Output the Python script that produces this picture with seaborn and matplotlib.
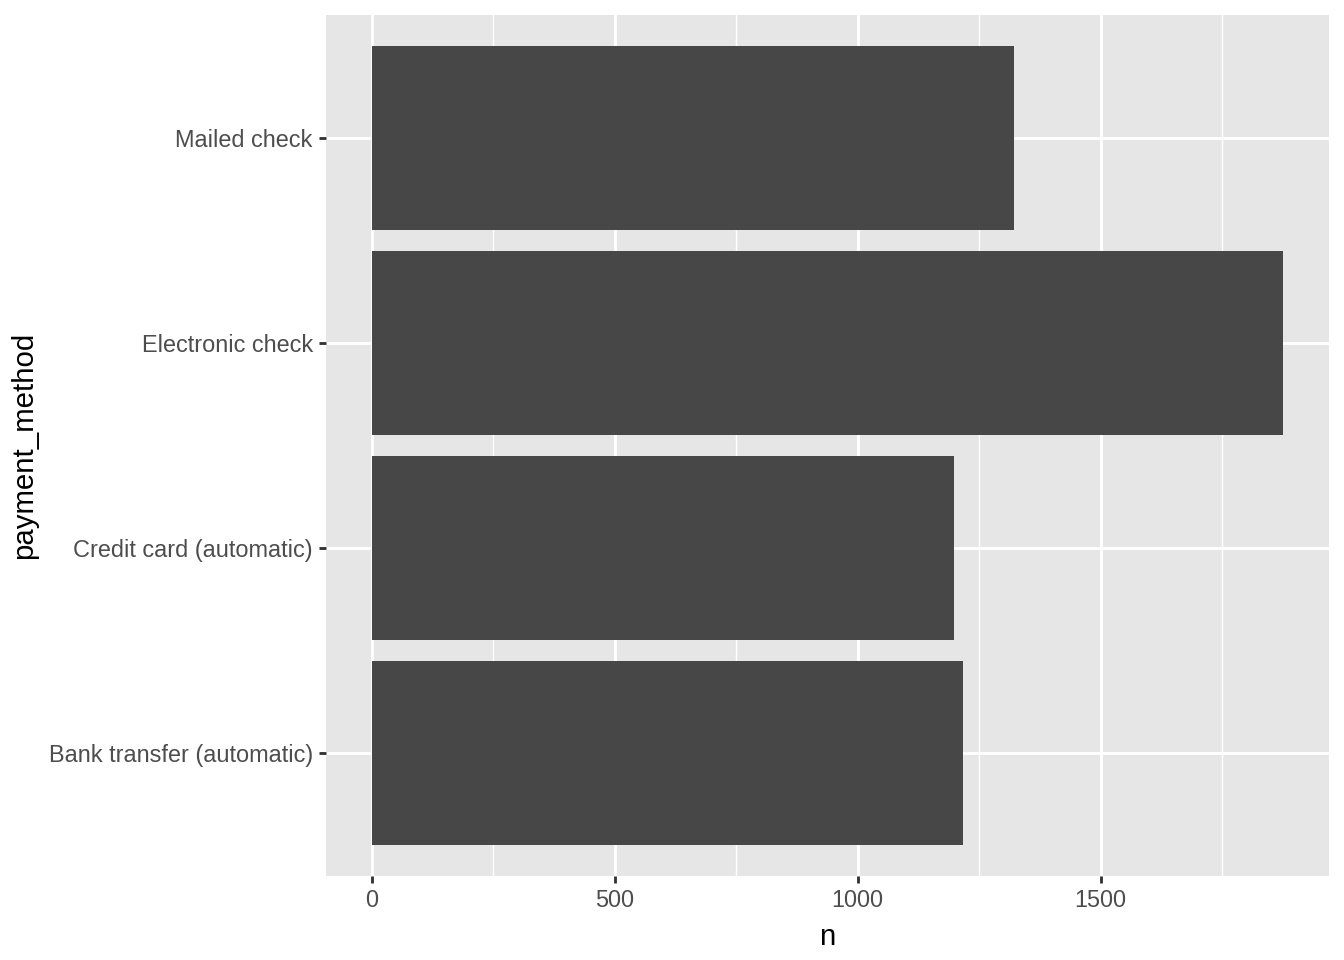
import pandas as pd
import seaborn as sns
import matplotlib.pyplot as plt
from matplotlib.ticker import MultipleLocator

# Datos del gráfico (conteo por método de pago)
metodos = ["Mailed check", "Electronic check", "Credit card (automatic)", "Bank transfer (automatic)"]
conteos = [1321, 1876, 1198, 1216]

df = pd.DataFrame({"payment_method": metodos, "n": conteos})

sns.set_theme(style="darkgrid")
plt.rcParams['font.family'] = ['Liberation Sans', 'DejaVu Sans']

fig = plt.figure(figsize=(7, 5), dpi=192)
ax = fig.add_axes([326 / 1344, 1 - 876 / 960, (1329 - 326) / 1344, (876 - 15) / 960])

sns.barplot(data=df, x="n", y="payment_method", order=metodos,
            color="#474747", saturation=1, width=0.9, linewidth=0,
            ax=ax, zorder=3)

# Estilo tipo ggplot
ax.set_facecolor("#E6E6E6")
for s in ax.spines.values():
    s.set_visible(False)
xmax = max(conteos)
ax.set_xlim(-0.05 * xmax, 1.05 * xmax)
ax.set_ylim(3.6, -0.6)
ax.xaxis.set_major_locator(MultipleLocator(500))
ax.xaxis.set_minor_locator(MultipleLocator(250))
ax.grid(which="major", color="white", linewidth=1.07)
ax.grid(which="minor", axis="x", color="white", linewidth=0.53)
ax.set_axisbelow(True)
ax.tick_params(axis="both", which="major", length=2.75, width=1.07, color="#333333",
               labelsize=8.8, labelcolor="#4D4D4D", pad=2.2)
ax.tick_params(axis="x", which="minor", length=0)
ax.tick_params(bottom=True, left=True)
ax.set_xlabel("n", fontsize=11, color="black", labelpad=4)
ax.set_ylabel("payment_method", fontsize=11, color="black", labelpad=4)

fig.savefig("out.png", dpi=192)
